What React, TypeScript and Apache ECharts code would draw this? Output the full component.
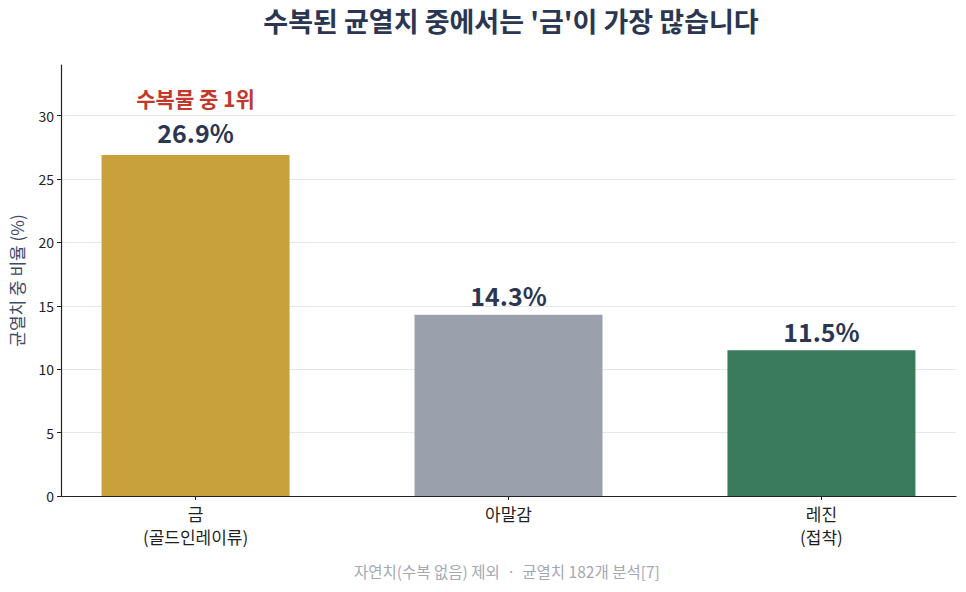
import React, { useEffect, useRef } from "react";
import * as echarts from "echarts";

const categories = ["금\n(골드인레이류)", "아말감", "레진\n(접착)"];
const values = [26.9, 14.3, 11.5];
const barColors = ["#c8a03c", "#9aa1ad", "#3a7b5b"];
const yTicks = [0, 5, 10, 15, 20, 25, 30];
const topNote = "수복물 중 1위";
const titleText = "수복된 균열치 중에서는 '금'이 가장 많습니다";
const footText = "자연치(수복 없음) 제외  ·  균열치 182개 분석[7]";

const FONT = "'Noto Sans CJK KR', 'Noto Sans', sans-serif";
const catIdx = categories.map((_, i) => i);

export default function App() {
  const ref = useRef<HTMLDivElement>(null);
  useEffect(() => {
    const chart = echarts.init(ref.current!, null, { renderer: "svg" });
    chart.setOption({
      animation: false,
      textStyle: { fontFamily: FONT },
      title: {
        text: titleText,
        left: 506,
        top: 2,
        textAlign: "center",
        textStyle: { fontFamily: FONT, fontSize: 27, fontWeight: "bold", color: "#2b3752" },
      },
      graphic: [
        {
          type: "text",
          left: 354,
          top: 563,
          style: { text: footText, fontFamily: FONT, fontSize: 15.5, fill: "#a3a8b1" },
        },
      ],
      grid: { left: 61, right: 10, top: 65, bottom: 96 },
      xAxis: {
        type: "value",
        min: -0.43,
        max: 2.43,
        splitLine: { show: false },
        axisLine: { onZero: false, lineStyle: { color: "#222", width: 1.2 } },
        axisTick: { length: 4, lineStyle: { color: "#222" }, customValues: catIdx },
        axisLabel: {
          fontFamily: FONT,
          fontSize: 17,
          color: "#1f1f1f",
          lineHeight: 23,
          margin: 6,
          customValues: catIdx,
          formatter: (v: number) => categories[Math.round(v)] ?? "",
        },
      },
      yAxis: {
        type: "value",
        min: 0,
        max: 34,
        interval: 5,
        name: "균열치 중 비율 (%)",
        nameLocation: "middle",
        nameGap: 36,
        nameTextStyle: { fontFamily: FONT, fontSize: 17, color: "#3e4a6a" },
        axisLine: { show: true, onZero: false, lineStyle: { color: "#222", width: 1.2 } },
        axisTick: { show: true, length: 4, lineStyle: { color: "#222" }, customValues: yTicks },
        axisLabel: { fontFamily: FONT, fontSize: 14, color: "#222", margin: 7, customValues: yTicks },
        splitLine: { show: false },
      },
      series: [
        {
          type: "bar",
          barWidth: 188,
          data: values.map((v, i) => ({
            value: [i, v],
            itemStyle: { color: barColors[i] },
            label:
              i === 0
                ? {
                    show: true,
                    position: "top",
                    distance: 7,
                    formatter: `{a|${topNote}}\n{b|${v.toFixed(1)}%}`,
                    rich: {
                      a: { fontFamily: FONT, fontSize: 21, fontWeight: "bold", color: "#c0392b", lineHeight: 36 },
                      b: { fontFamily: FONT, fontSize: 25, fontWeight: "bold", color: "#2b3752", lineHeight: 32 },
                    },
                  }
                : undefined,
          })),
          label: {
            show: true,
            position: "top",
            distance: 7,
            formatter: (p: any) => `${p.value[1].toFixed(1)}%`,
            fontFamily: FONT,
            fontSize: 25,
            fontWeight: "bold",
            color: "#2b3752",
          },
          markLine: {
            silent: true,
            symbol: "none",
            label: { show: false },
            lineStyle: { color: "#e3e8ee", type: "solid", width: 1 },
            z: 0,
            data: yTicks.filter((t) => t > 0).map((t) => ({ yAxis: t })),
          },
        },
      ],
    });
    return () => chart.dispose();
  }, []);
  return <div ref={ref} style={{ width: 966, height: 592, position: "absolute", left: 0, top: 0 }} />;
}
